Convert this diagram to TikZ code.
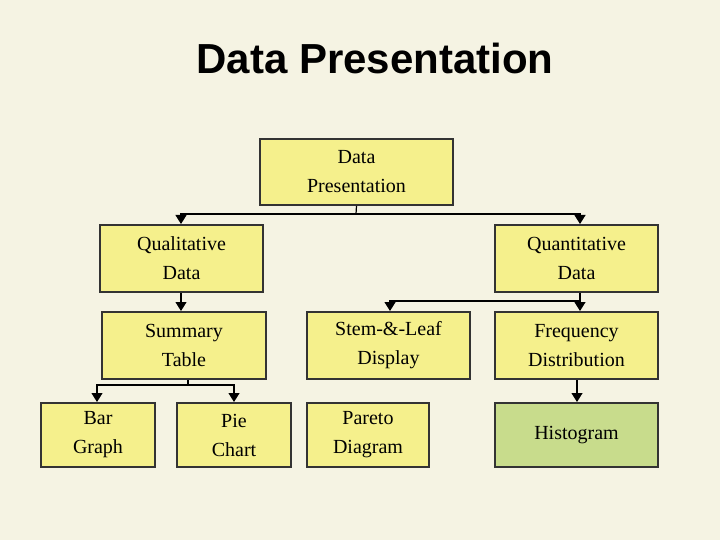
\documentclass[tikz,border=0pt]{standalone}
\usepackage{fontspec}
\setmainfont{Liberation Serif}
\newfontfamily\titlefont{Liberation Sans}
\usetikzlibrary{arrows.meta}
\definecolor{bg}{HTML}{F5F3E3}
\definecolor{boxy}{HTML}{F5F08C}
\definecolor{boxg}{HTML}{C8DC8C}
\begin{document}
\begin{tikzpicture}[x=1pt,y=-1pt,
  box/.style={draw=black!80,line width=2pt,fill=boxy,anchor=north west,align=center,inner sep=0pt,font=\fontsize{20}{29}\selectfont},
  conn/.style={line width=1.2pt,-{Triangle[length=9pt,width=11pt]}},
  seg/.style={line width=1.2pt}]
\fill[bg] (0,0) rectangle (720,540);
\useasboundingbox (0,0) rectangle (720,540);
\node[font=\titlefont\bfseries\fontsize{42}{46}\selectfont] (title) at (375,58) {Data Presentation};
\node[box,minimum width=193,minimum height=66] (dp) at (259,138) {Data\\Presentation};
\node[box,minimum width=163,minimum height=67] (ql) at (99,224) {Qualitative\\Data};
\node[box,minimum width=163,minimum height=67] (qn) at (494,224) {Quantitative\\Data};
\node[box,minimum width=164,minimum height=67] (st) at (101,311) {Summary\\Table};
\node[box,minimum width=163,minimum height=67] (sl) at (306,311) {Stem-\&-Leaf\\Display};
\node[box,minimum width=163,minimum height=67] (fd) at (494,311) {Frequency\\Distribution};
\node[box,minimum width=114,minimum height=64] (bg) at (40,402) {Bar\\Graph};
\node[box,minimum width=114,minimum height=64] (pc) at (176,402) {Pie\\Chart};
\node[box,minimum width=122,minimum height=64] (pd) at (306,402) {Pareto\\Diagram};
\node[box,fill=boxg,minimum width=163,minimum height=64] (hg) at (494,402) {Histogram};
\coordinate (j1) at (356,214);
\draw[seg] (dp.south) -- (j1);
\draw[conn] (j1) -| (ql.north -| 181,0);
\draw[conn] (j1) -| (qn.north -| 580,0);
\draw[conn] (ql.south -| 181,0) -- (st.north -| 181,0);
\coordinate (j2) at (580,301);
\draw[seg] (qn.south -| 580,0) -- (j2);
\draw[conn] (j2) -| (sl.north -| 390,0);
\draw[conn] (j2) -- (fd.north -| 580,0);
\coordinate (j3) at (188,385);
\draw[seg] (st.south -| 188,0) -- (j3);
\draw[conn] (j3) -| (bg.north -| 97,0);
\draw[conn] (j3) -| (pc.north -| 234,0);
\draw[conn] (fd.south -| 577,0) -- (hg.north -| 577,0);
\end{tikzpicture}
\end{document}
